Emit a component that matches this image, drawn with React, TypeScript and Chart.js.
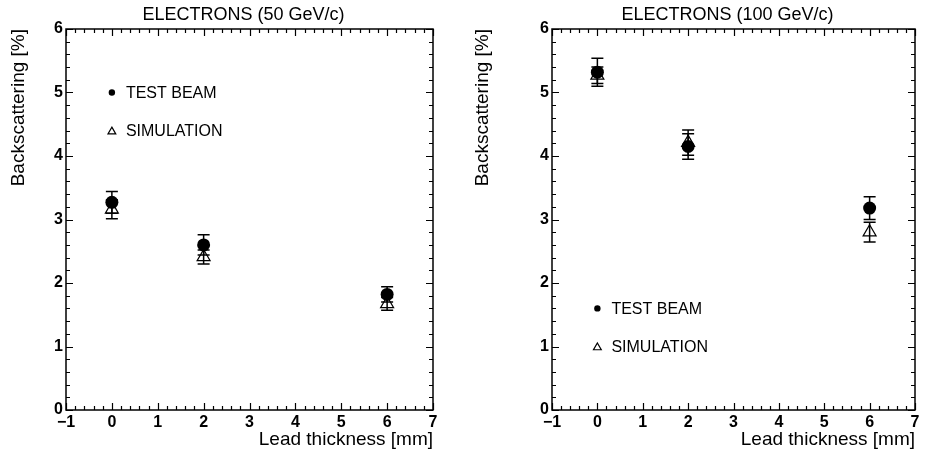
import React, { useEffect, useRef } from "react";
import { Chart, registerables } from "chart.js";

Chart.register(...registerables);

// ---- data ----
const thickness = [0, 2, 6];
const testBeam50 = [3.27, 2.6, 1.82];
const testBeam50Err = [0.17, 0.16, 0.12];
const sim50 = [3.16, 2.41, 1.67];
const sim50Err = [0.15, 0.11, 0.1];
const testBeam100 = [5.32, 4.15, 3.18];
const testBeam100Err = [0.22, 0.2, 0.18];
const sim100 = [5.27, 4.21, 2.8];
const sim100Err = [0.13, 0.2, 0.155];
const titles = ["ELECTRONS (50 GeV/c)", "ELECTRONS (100 GeV/c)"];
const legendLabels = ["TEST BEAM", "SIMULATION"];
const xTitle = "Lead thickness [mm]";
const yTitle = "Backscattering [%]";

const FONT = "'Liberation Sans', Arial, Helvetica, sans-serif";

function drawMarker(ctx: CanvasRenderingContext2D, style: string, x: number, y: number, r: number) {
  ctx.beginPath();
  if (style === "circle") {
    ctx.arc(x, y, r, 0, Math.PI * 2);
    ctx.fillStyle = "#000";
    ctx.fill();
  } else {
    const h = r * 1.5;
    const w = r * Math.sqrt(3);
    ctx.moveTo(x, y - r);
    ctx.lineTo(x + w / 2, y - r + h);
    ctx.lineTo(x - w / 2, y - r + h);
    ctx.closePath();
    ctx.lineWidth = 1.2;
    ctx.strokeStyle = "#000";
    ctx.stroke();
  }
}

const framePlugin = {
  id: "frame",
  beforeDatasetsDraw(chart: any, _args: any, opts: any) {
    const { ctx, scales } = chart;
    const x = scales.x;
    const y = scales.y;
    ctx.save();
    ctx.strokeStyle = "#000";
    ctx.lineWidth = 1.5;
    (opts.errors || []).forEach((errs: number[], di: number) => {
      const ds = chart.data.datasets[di];
      ds.data.forEach((p: any, i: number) => {
        const px = x.getPixelForValue(p.x);
        const top = y.getPixelForValue(p.y + errs[i]);
        const bot = y.getPixelForValue(p.y - errs[i]);
        ctx.beginPath();
        ctx.moveTo(px, top);
        ctx.lineTo(px, bot);
        ctx.moveTo(px - 6, top);
        ctx.lineTo(px + 6, top);
        ctx.moveTo(px - 6, bot);
        ctx.lineTo(px + 6, bot);
        ctx.stroke();
      });
    });
    ctx.restore();
  },
  afterDraw(chart: any, _args: any, opts: any) {
    const { ctx, chartArea: a, scales } = chart;
    const x = scales.x;
    const y = scales.y;
    ctx.save();
    ctx.strokeStyle = "#000";
    ctx.lineWidth = 1.5;
    ctx.strokeRect(a.left, a.top, a.right - a.left, a.bottom - a.top);
    ctx.lineWidth = 1.2;
    ctx.beginPath();
    const xmin = x.min, xmax = x.max, ymin = y.min, ymax = y.max;
    const nx = Math.round((xmax - xmin) / 0.2);
    for (let i = 0; i <= nx; i++) {
      const v = xmin + i * 0.2;
      const len = i % 5 === 0 ? 7 : 4;
      const px = Math.round(x.getPixelForValue(v)) + 0.5;
      ctx.moveTo(px, a.bottom);
      ctx.lineTo(px, a.bottom - len);
      ctx.moveTo(px, a.top);
      ctx.lineTo(px, a.top + len);
    }
    const ny = Math.round((ymax - ymin) / 0.2);
    for (let i = 0; i <= ny; i++) {
      const v = ymin + i * 0.2;
      const len = i % 5 === 0 ? 7 : 4;
      const py = Math.round(y.getPixelForValue(v)) + 0.5;
      ctx.moveTo(a.left, py);
      ctx.lineTo(a.left + len, py);
      ctx.moveTo(a.right, py);
      ctx.lineTo(a.right - len, py);
    }
    ctx.stroke();

    // title
    ctx.fillStyle = "#000";
    ctx.font = `18px ${FONT}`;
    ctx.textAlign = "center";
    ctx.textBaseline = "middle";
    ctx.fillText(opts.title, (a.left + a.right) / 2 - 6, 15);

    // legend
    ctx.font = `16px ${FONT}`;
    ctx.textAlign = "left";
    (opts.legend || []).forEach((it: any) => {
      const px = x.getPixelForValue(it.x);
      const py = y.getPixelForValue(it.y);
      if (it.style === "circle") drawMarker(ctx, "circle", px, py, 3.2);
      else drawMarker(ctx, "triangle", px, py + 1, 4.5);
      ctx.fillStyle = "#000";
      ctx.fillText(it.label, px + 14, py + 1);
    });
    ctx.restore();
  },
};

interface PanelProps {
  title: string;
  tb: number[];
  tbErr: number[];
  sim: number[];
  simErr: number[];
  legendY: number[];
  yAxisWidth: number;
  padRight: number;
}

function Panel(props: PanelProps) {
  const ref = useRef<HTMLCanvasElement | null>(null);
  useEffect(() => {
    if (!ref.current) return;
    const tickFont = { family: FONT, size: 16, weight: "bold" as const };
    const fmt = (v: any) => String(v).replace("-", "\u2212");
    const chart = new Chart(ref.current, {
      type: "scatter",
      data: {
        datasets: [
          {
            label: legendLabels[1],
            data: thickness.map((t, i) => ({ x: t, y: props.sim[i] })),
            pointStyle: "triangle",
            pointRadius: 7.5,
            borderColor: "#000",
            backgroundColor: "rgba(0,0,0,0)",
            borderWidth: 1.2,
          },
          {
            label: legendLabels[0],
            data: thickness.map((t, i) => ({ x: t, y: props.tb[i] })),
            pointStyle: "circle",
            pointRadius: 6.5,
            borderColor: "#000",
            backgroundColor: "#000",
            borderWidth: 0,
          },
        ],
      },
      options: {
        animation: false,
        responsive: false,
        events: [],
        layout: { padding: { left: 0, right: props.padRight, top: 29, bottom: 0 } },
        scales: {
          x: {
            type: "linear",
            min: -1,
            max: 7,
            grid: { display: false, drawTicks: false },
            border: { display: false },
            ticks: { stepSize: 1, padding: 3, color: "#000", font: tickFont, callback: fmt },
            title: {
              display: true,
              text: xTitle,
              align: "end",
              color: "#000",
              font: { family: FONT, size: 19 },
              padding: { top: 0, bottom: 8 },
            },
            afterFit: (s: any) => {
              s.height = 49;
            },
          },
          y: {
            type: "linear",
            min: 0,
            max: 6,
            grid: { display: false, drawTicks: false },
            border: { display: false },
            ticks: { stepSize: 1, padding: 3, color: "#000", font: tickFont, callback: fmt },
            title: {
              display: true,
              text: yTitle,
              align: "end",
              color: "#000",
              font: { family: FONT, size: 19 },
              padding: { top: 7, bottom: 0 },
            },
            afterFit: (s: any) => {
              s.width = props.yAxisWidth;
            },
          },
        },
        plugins: {
          legend: { display: false },
          tooltip: { enabled: false },
          frame: {
            title: props.title,
            errors: [props.simErr, props.tbErr],
            legend: [
              { style: "circle", x: 0, y: props.legendY[0], label: legendLabels[0] },
              { style: "triangle", x: 0, y: props.legendY[1], label: legendLabels[1] },
            ],
          },
        } as any,
      },
      plugins: [framePlugin],
    });
    return () => chart.destroy();
  }, []);
  return <canvas ref={ref} width={464} height={459} style={{ display: "block", width: 464, height: 459 }} />;
}

export default function App() {
  useEffect(() => {
    document.body.style.margin = "0";
  }, []);
  return (
    <div style={{ position: "absolute", left: 0, top: 0, width: 928, height: 459, display: "flex", background: "#fff" }}>
      <Panel
        title={titles[0]}
        tb={testBeam50}
        tbErr={testBeam50Err}
        sim={sim50}
        simErr={sim50Err}
        legendY={[5.0, 4.4]}
        yAxisWidth={66}
        padRight={31}
      />
      <Panel
        title={titles[1]}
        tb={testBeam100}
        tbErr={testBeam100Err}
        sim={sim100}
        simErr={sim100Err}
        legendY={[1.6, 1.0]}
        yAxisWidth={88}
        padRight={13}
      />
    </div>
  );
}
